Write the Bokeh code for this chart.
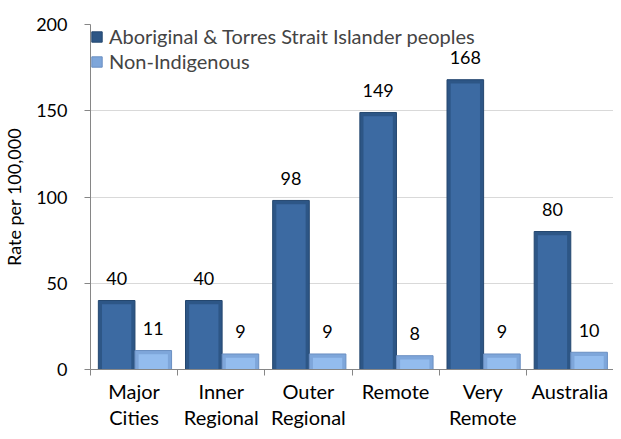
from bokeh.plotting import figure
from bokeh.models import ColumnDataSource, FixedTicker, Legend, LegendItem
from bokeh.embed import file_html
from bokeh.resources import INLINE
from bokeh.core.properties import value

categories = ["Major\nCities", "Inner\nRegional", "Outer\nRegional", "Remote", "Very\nRemote", "Australia"]
indigenous = [40, 40, 98, 149, 168, 80]
non_indigenous = [11, 9, 9, 8, 9, 10]
series_names = ["Aboriginal & Torres Strait Islander peoples", "Non-Indigenous"]
y_ticks = [0, 50, 100, 150, 200]

FONT = "Lato"
n = len(categories)
centers = [i + 0.5 for i in range(n)]
bw = 0.42
x_dark = [c - bw / 2 + 0.01 for c in centers]
x_light = [c + bw / 2 + 0.01 for c in centers]

p = figure(width=613, height=431, output_backend="svg", toolbar_location=None,
           x_range=(0, n), y_range=(0, 200),
           min_border_left=86, min_border_top=24, min_border_bottom=56, min_border_right=0)
p.outline_line_color = None
p.background_fill_color = "white"

bevel = 2.2
src_d = ColumnDataSource(dict(x=x_dark, top=indigenous, inner=[v - bevel for v in indigenous],
                              lab=[str(v) for v in indigenous]))
src_l = ColumnDataSource(dict(x=x_light, top=non_indigenous, inner=[v - bevel for v in non_indigenous],
                              lab=[str(v) for v in non_indigenous]))

r1 = p.vbar(x="x", top="top", width=bw, bottom=0, source=src_d,
            fill_color="#2D5686", line_color="#24476F", line_width=1)
p.vbar(x="x", top="inner", width=bw * 0.8, bottom=0, source=src_d,
       fill_color="#3C6AA2", line_color=None)
r2 = p.vbar(x="x", top="top", width=bw, bottom=0, source=src_l,
            fill_color="#7EA6DA", line_color="#6A8FC2", line_width=1)
p.vbar(x="x", top="inner", width=bw * 0.8, bottom=0, source=src_l,
       fill_color="#93BCEE", line_color=None)

for src in (src_d, src_l):
    p.text(x="x", y="top", text="lab", source=src, text_align="center",
           text_baseline="middle", y_offset=-22, text_font=value(FONT),
           text_font_size="18px", text_color="#000000")

# axes
p.xaxis.ticker = FixedTicker(ticks=centers, minor_ticks=list(range(n + 1)))
p.xaxis.major_label_overrides = {c: lab for c, lab in zip(centers, categories)}
p.xaxis.major_tick_line_color = None
p.xaxis.minor_tick_in = 0
p.xaxis.minor_tick_out = 6
p.xaxis.minor_tick_line_color = "#868686"
p.xaxis.axis_line_color = "#868686"
p.xaxis.major_label_text_font = FONT
p.xaxis.major_label_text_font_size = "20px"
p.xaxis.major_label_text_color = "#000000"
p.xaxis.major_label_standoff = 3
p.xaxis.major_label_text_line_height = 1.1

p.yaxis.ticker = FixedTicker(ticks=y_ticks)
p.yaxis.minor_tick_line_color = None
p.yaxis.major_tick_in = 0
p.yaxis.major_tick_out = 6
p.yaxis.major_tick_line_color = "#868686"
p.yaxis.axis_line_color = "#868686"
p.yaxis.major_label_text_font = FONT
p.yaxis.major_label_text_font_size = "18px"
p.yaxis.major_label_text_color = "#000000"
p.yaxis.major_label_standoff = 17
p.yaxis.axis_label = "Rate per 100,000"
p.yaxis.axis_label_text_font = FONT
p.yaxis.axis_label_text_font_style = "normal"
p.yaxis.axis_label_text_font_size = "18px"
p.yaxis.axis_label_text_color = "#000000"
p.yaxis.axis_label_standoff = 8

p.xgrid.grid_line_color = None
p.ygrid.grid_line_color = "#D9D9D9"
p.ygrid.ticker = FixedTicker(ticks=y_ticks)

legend = Legend(items=[LegendItem(label=series_names[0], renderers=[r1]),
                       LegendItem(label=series_names[1], renderers=[r2])],
                location="top_left", border_line_color=None, background_fill_alpha=0,
                label_text_font=FONT, label_text_font_size="20px", label_height=24,
                glyph_width=13, glyph_height=13, spacing=1, padding=3,
                margin=0, label_standoff=6)
p.add_layout(legend)

open("out.html", "w").write(file_html(p, INLINE))
